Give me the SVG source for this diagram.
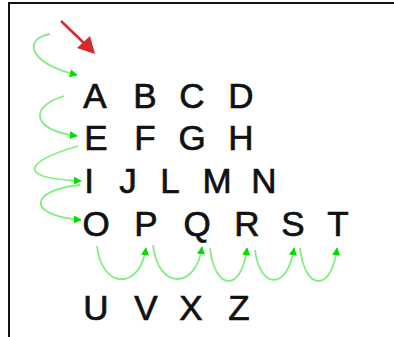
<svg xmlns="http://www.w3.org/2000/svg" width="394" height="337" viewBox="0 0 394 337">
<style>
.l{font-family:"Liberation Sans",Arial,sans-serif;font-size:35px;fill:#111;stroke:#111;stroke-width:0.7;text-anchor:middle}
.g{fill:none;stroke:#80ee80;stroke-width:1.8;marker-end:url(#gh)}
</style>
<defs>
<marker id="gh" viewBox="0 0 10 10" refX="9" refY="5" markerWidth="8" markerHeight="8" markerUnits="userSpaceOnUse" orient="auto">
<path d="M0,0 L10,5 L0,10 z" fill="#00dd00"/>
</marker>
</defs>
<rect width="394" height="337" fill="#fff"/>
<path d="M9,337 V3 H394" fill="none" stroke="#111" stroke-width="2"/>
<g id="letters">
<text class="l" x="95" y="108">A</text>
<text class="l" x="145" y="108">B</text>
<text class="l" x="192" y="108">C</text>
<text class="l" x="241" y="108">D</text>
<text class="l" x="96" y="150">E</text>
<text class="l" x="145" y="150">F</text>
<text class="l" x="192" y="150">G</text>
<text class="l" x="241" y="150">H</text>
<text class="l" x="89" y="193">I</text>
<text class="l" x="128" y="193">J</text>
<text class="l" x="170" y="193">L</text>
<text class="l" x="217" y="193">M</text>
<text class="l" x="264" y="193">N</text>
<text class="l" x="96" y="236">O</text>
<text class="l" x="146" y="236">P</text>
<text class="l" x="197" y="236">Q</text>
<text class="l" x="247" y="236">R</text>
<text class="l" x="293" y="236">S</text>
<text class="l" x="338" y="236">T</text>
<text class="l" x="96" y="320">U</text>
<text class="l" x="146" y="320">V</text>
<text class="l" x="191" y="320">X</text>
<text class="l" x="239" y="320">Z</text>
</g>
<g id="connectors">
<line x1="61" y1="21" x2="85" y2="44" stroke="#d42a2a" stroke-width="2.5"/>
<polygon points="95,54 77,48 90,36" fill="#d42a2a"/>
<path class="g" d="M50,34 C25,38 25,62 77,75"/>
<path class="g" d="M64,96 C30,106 30,130 77,136"/>
<path class="g" d="M78,146 C30,160 10,178 81,181"/>
<path class="g" d="M80,185 C30,190 25,215 81,220"/>
<path class="g" d="M97,246 C102,290 140,290 146,248"/>
<path class="g" d="M153,245 C158,290 196,290 202,247"/>
<path class="g" d="M210,248 C215,292 242,292 247,248"/>
<path class="g" d="M255,250 C260,290 288,290 294,248"/>
<path class="g" d="M300,248 C305,292 332,292 337,248"/>
</g>
</svg>
